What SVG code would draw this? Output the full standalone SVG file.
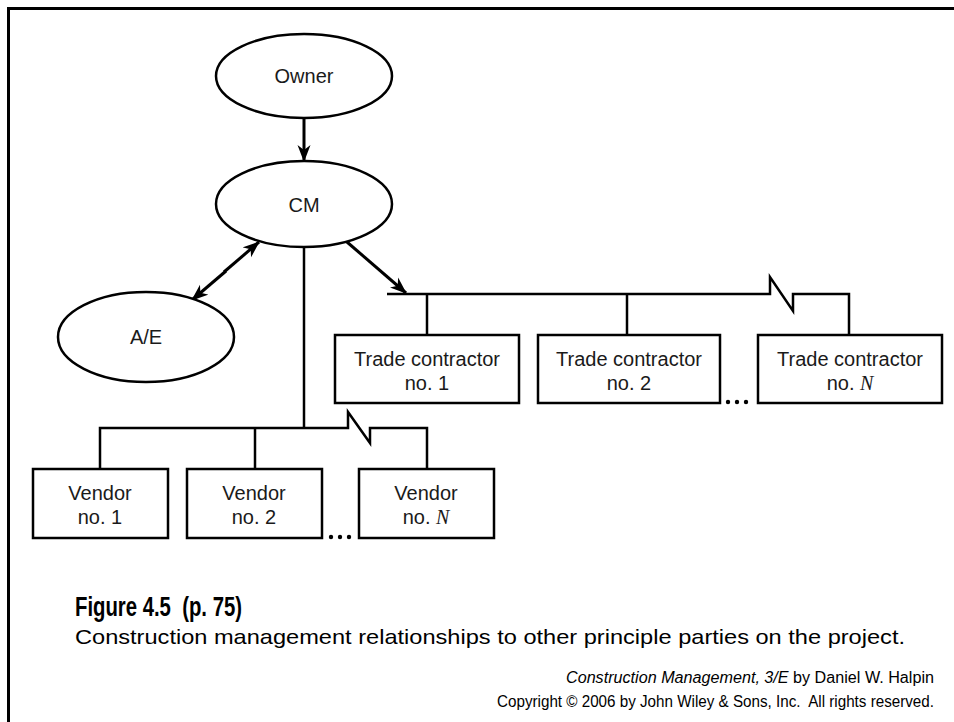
<svg xmlns="http://www.w3.org/2000/svg" width="954" height="722" viewBox="0 0 954 722">
<style>
.frame{fill:none;stroke:#000;stroke-width:3}
.shape{fill:#fff;stroke:#000;stroke-width:2.5}
.ln{fill:none;stroke:#000;stroke-width:2.5;stroke-linejoin:miter}
.arr{fill:none;stroke:#000;stroke-width:3}
.lbl{font-family:"Liberation Sans",Arial,sans-serif;font-size:20px;fill:#1a1a1a;text-anchor:middle}
.it{font-family:"Liberation Serif","Times New Roman",serif;font-style:italic}
.dots{fill:#000}
.cap1{font-family:"Liberation Sans",Arial,sans-serif;font-size:28px;font-weight:bold;fill:#000}
.cap2{font-family:"Liberation Sans",Arial,sans-serif;font-size:21px;fill:#000}
.cred{font-family:"Liberation Sans",Arial,sans-serif;font-size:16px;fill:#000;text-anchor:end}
</style>
<defs>
<marker id="ah" markerUnits="userSpaceOnUse" markerWidth="17" markerHeight="14" viewBox="0 0 17 14" refX="16" refY="7" orient="auto-start-reverse">
<path d="M0,0.5 L17,7 L0,13.5 L5,7 z" fill="#000"/>
</marker>
</defs>
<rect width="954" height="722" fill="#fff"/>
<path class="frame" d="M8.5,722 V8.5 H954"/>

<g id="connectors">
<line class="arr" x1="304" y1="118" x2="304" y2="161" marker-end="url(#ah)"/>
<line class="arr" x1="224" y1="272" x2="259" y2="242" marker-end="url(#ah)"/>
<line class="arr" x1="226" y1="271" x2="192" y2="300" marker-end="url(#ah)"/>
<line class="arr" x1="347" y1="242" x2="406" y2="293" marker-end="url(#ah)"/>
<path class="ln" d="M387,294 H770 V277 L793,311 V294 H849 V335"/>
<path class="ln" d="M427,294 V335"/>
<path class="ln" d="M627,294 V335"/>
<path class="ln" d="M304,247 V428"/>
<path class="ln" d="M100,469 V428 H348 V412 L370,443 V428 H427 V469"/>
<path class="ln" d="M255,428 V469"/>
</g>

<g id="owner">
<ellipse class="shape" cx="304" cy="76" rx="88" ry="42"/>
<text class="lbl" x="304" y="83">Owner</text>
</g>
<g id="cm">
<ellipse class="shape" cx="304" cy="204" rx="88" ry="43"/>
<text class="lbl" x="304" y="212">CM</text>
</g>
<g id="ae">
<ellipse class="shape" cx="146" cy="337" rx="88" ry="45"/>
<text class="lbl" x="146" y="344">A/E</text>
</g>

<g id="trade1">
<rect class="shape" x="335" y="335" width="184" height="68"/>
<text class="lbl" x="427" y="366">Trade contractor</text>
<text class="lbl" x="427" y="390">no. 1</text>
</g>
<g id="trade2">
<rect class="shape" x="538" y="335" width="182" height="68"/>
<text class="lbl" x="629" y="366">Trade contractor</text>
<text class="lbl" x="629" y="390">no. 2</text>
</g>
<g id="tradeN">
<rect class="shape" x="758" y="335" width="184" height="68"/>
<text class="lbl" x="850" y="366">Trade contractor</text>
<text class="lbl" x="850" y="390">no. <tspan class="it">N</tspan></text>
</g>
<g id="trade-dots">
<circle class="dots" cx="728" cy="402" r="2.2"/>
<circle class="dots" cx="737" cy="402" r="2.2"/>
<circle class="dots" cx="746" cy="402" r="2.2"/>
</g>

<g id="vendor1">
<rect class="shape" x="33" y="469" width="135" height="69"/>
<text class="lbl" x="100" y="500">Vendor</text>
<text class="lbl" x="100" y="524">no. 1</text>
</g>
<g id="vendor2">
<rect class="shape" x="187" y="469" width="135" height="69"/>
<text class="lbl" x="254" y="500">Vendor</text>
<text class="lbl" x="254" y="524">no. 2</text>
</g>
<g id="vendorN">
<rect class="shape" x="359" y="469" width="135" height="69"/>
<text class="lbl" x="426" y="500">Vendor</text>
<text class="lbl" x="426" y="524">no. <tspan class="it">N</tspan></text>
</g>
<g id="vendor-dots">
<circle class="dots" cx="331" cy="537" r="2.2"/>
<circle class="dots" cx="340" cy="537" r="2.2"/>
<circle class="dots" cx="349" cy="537" r="2.2"/>
</g>

<g id="caption">
<text class="cap1" x="75" y="616" textLength="167" lengthAdjust="spacingAndGlyphs" xml:space="preserve">Figure 4.5  (p. 75)</text>
<text class="cap2" x="75" y="644" textLength="830" lengthAdjust="spacingAndGlyphs">Construction management relationships to other principle parties on the project.</text>
<text class="cred" x="934" y="683" textLength="368" lengthAdjust="spacingAndGlyphs"><tspan font-style="italic">Construction Management, 3/E</tspan> by Daniel W. Halpin</text>
<text class="cred" x="934" y="707" textLength="437" lengthAdjust="spacingAndGlyphs" xml:space="preserve">Copyright © 2006 by John Wiley &amp; Sons, Inc.  All rights reserved.</text>
</g>
</svg>
